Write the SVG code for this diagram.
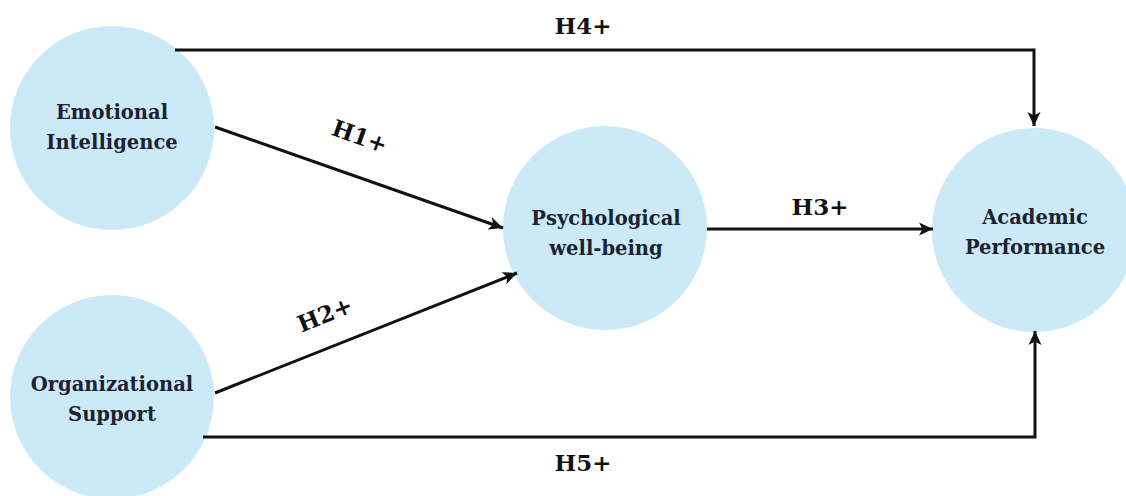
<svg xmlns="http://www.w3.org/2000/svg" width="1126" height="496" viewBox="0 0 1126 496">
  <defs>
    <marker id="arr" markerUnits="userSpaceOnUse" markerWidth="16" markerHeight="16" refX="14" refY="8" orient="auto">
      <path d="M0,1.5 L14,8 L0,14.5 L3.5,8 z" fill="#111"/>
    </marker>
    <style>
      .node circle { fill: #cbe9f7; }
      .node text { font-family: "DejaVu Serif", "Liberation Serif", serif; font-weight: bold; font-size: 19.5px; fill: #1c2230; text-anchor: middle; }
      .conn { stroke: #111; stroke-width: 3; fill: none; }
      .lbl { font-family: "DejaVu Serif", "Liberation Serif", serif; font-weight: bold; font-size: 23px; fill: #111; text-anchor: middle; }
    </style>
  </defs>
  <rect width="1126" height="496" fill="#ffffff"/>

  <g id="node-ei" class="node">
    <circle cx="112" cy="128" r="102"/>
    <text x="112" y="119">Emotional</text>
    <text x="112" y="149">Intelligence</text>
  </g>
  <g id="node-os" class="node">
    <circle cx="112" cy="397" r="102"/>
    <text x="112" y="391">Organizational</text>
    <text x="112" y="421">Support</text>
  </g>
  <g id="node-pw" class="node">
    <circle cx="605" cy="228" r="102"/>
    <text x="606" y="225">Psychological</text>
    <text x="606" y="255">well-being</text>
  </g>
  <g id="node-ap" class="node">
    <circle cx="1034" cy="230" r="102"/>
    <text x="1035" y="224">Academic</text>
    <text x="1035" y="254">Performance</text>
  </g>

  <g id="connectors">
    <line class="conn" x1="215" y1="127" x2="503" y2="228" marker-end="url(#arr)"/>
    <line class="conn" x1="215" y1="393" x2="517" y2="273" marker-end="url(#arr)"/>
    <line class="conn" x1="707" y1="229" x2="933" y2="229" marker-end="url(#arr)"/>
    <polyline class="conn" points="175,50 1034,50 1034,126" marker-end="url(#arr)"/>
    <polyline class="conn" points="203,437 1035,437 1035,331" marker-end="url(#arr)"/>
  </g>

  <g id="labels">
    <text class="lbl" x="0" y="0" transform="translate(357,144) rotate(19.5)">H1+</text>
    <text class="lbl" x="0" y="0" transform="translate(328,322) rotate(-22)">H2+</text>
    <text class="lbl" x="820" y="215">H3+</text>
    <text class="lbl" x="583" y="34">H4+</text>
    <text class="lbl" x="583" y="471">H5+</text>
  </g>
</svg>
